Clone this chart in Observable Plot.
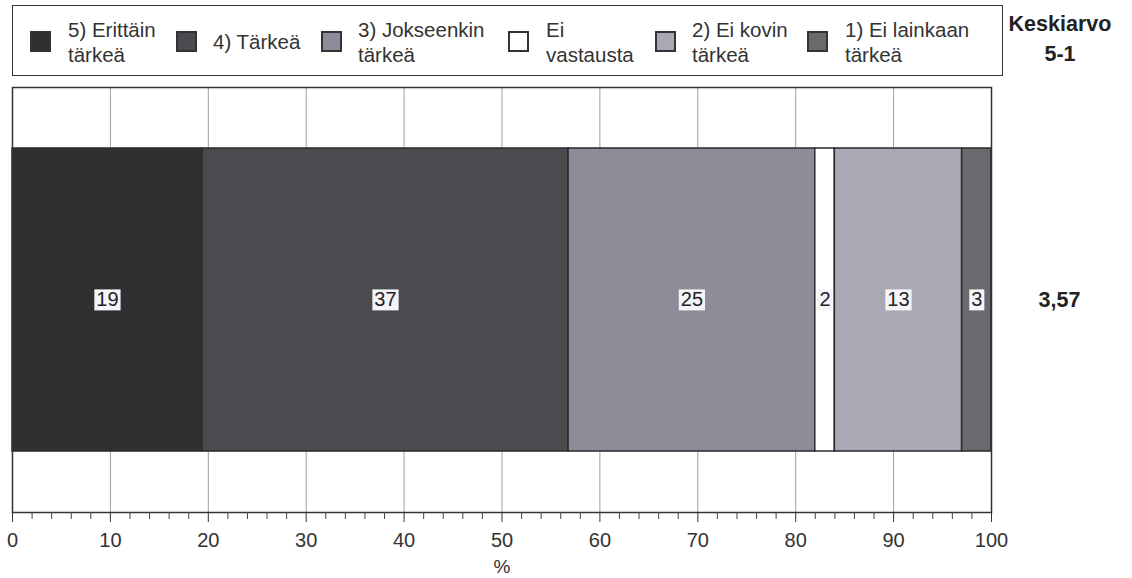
<!DOCTYPE html>
<html><head><meta charset="utf-8">
<script src="https://cdn.jsdelivr.net/npm/d3@7"></script>
<script src="https://cdn.jsdelivr.net/npm/@observablehq/plot@0.6"></script>
<style>
body{margin:0;background:#fff;font-family:"Liberation Sans",Arial,sans-serif;overflow:hidden;}
#wrap{position:relative;width:1132px;height:578px;}
#legend{position:relative;width:1132px;height:80px;}
.box{position:absolute;left:12px;top:5px;width:991px;height:71px;border:1.5px solid #333;box-sizing:border-box;}
.sw{position:absolute;top:31px;width:21px;height:21px;border:2px solid #333;box-sizing:border-box;}
.lt{position:absolute;font-size:20.5px;line-height:25px;color:#333;white-space:nowrap;}
.kv{position:absolute;font-weight:bold;font-size:21.5px;line-height:25px;color:#222;text-align:center;width:120px;left:1000px;}
#chart svg{display:block;}
</style>
</head><body>
<div id="wrap">
  <div id="legend"></div>
  <div id="chart"></div>
</div>
<script>
// ---- data ----
const categories = ["5) Erittäin tärkeä", "4) Tärkeä", "3) Jokseenkin tärkeä", "Ei vastausta", "2) Ei kovin tärkeä", "1) Ei lainkaan tärkeä"];
const legendLines = [["5) Erittäin", "tärkeä"], ["4) Tärkeä"], ["3) Jokseenkin", "tärkeä"], ["Ei", "vastausta"], ["2) Ei kovin", "tärkeä"], ["1) Ei lainkaan", "tärkeä"]];
const values = [19.4, 37.4, 25.2, 2.0, 13.0, 3.0];
const colors = ["#303033", "#4b4b4f", "#8d8d99", "#ffffff", "#a9a9b6", "#69696e"];
const meanTitle = ["Keskiarvo", "5-1"];
const meanValue = "3,57";
const majorTicks = [0, 10, 20, 30, 40, 50, 60, 70, 80, 90, 100];
const minorTicks = [2, 4, 6, 8, 12, 14, 16, 18, 22, 24, 26, 28, 32, 34, 36, 38, 42, 44, 46, 48, 52, 54, 56, 58, 62, 64, 66, 68, 72, 74, 76, 78, 82, 84, 86, 88, 92, 94, 96, 98];
const gridTicks = [10, 20, 30, 40, 50, 60, 70, 80, 90];
const axisLabel = "%";

// ---- legend (HTML) ----
const swatchLeft = [30, 176, 321, 508, 655, 807];
const textLeft = [68, 213, 358, 546, 692, 845];
const legend = document.getElementById("legend");
legend.innerHTML = '<div class="box"></div>';
categories.forEach((c, i) => {
  const sw = document.createElement("div");
  sw.className = "sw";
  sw.style.left = swatchLeft[i] + "px";
  sw.style.background = colors[i];
  legend.appendChild(sw);
  const t = document.createElement("div");
  t.className = "lt";
  t.style.left = textLeft[i] + "px";
  t.style.top = (legendLines[i].length === 1 ? 29 : 17) + "px";
  t.innerHTML = legendLines[i].join("<br>");
  legend.appendChild(t);
});
meanTitle.forEach((s, i) => {
  const d = document.createElement("div");
  d.className = "kv";
  d.style.top = (i === 0 ? 12 : 42) + "px";
  d.textContent = s;
  legend.appendChild(d);
});

// ---- chart ----
const data = categories.map((c, i) => ({row: "r", category: c, value: values[i]}));

const chart = Plot.plot({
  width: 1132,
  height: 498,
  marginTop: 7,
  marginBottom: 66,
  marginLeft: 12,
  marginRight: 141,
  x: {domain: [0, 100], axis: null},
  y: {domain: ["r"], axis: null, paddingInner: 0, paddingOuter: 0.2},
  color: {domain: categories, range: colors},
  style: {fontFamily: "'Liberation Sans', Arial, sans-serif", fontSize: "20px", color: "#333", background: "#fff"},
  marks: [
    Plot.ruleX(gridTicks, {stroke: "#9c9ca4", strokeWidth: 1}),
    Plot.barX(data, Plot.stackX({x: "value", y: "row", fill: "category", stroke: "#2a2a2a", strokeWidth: 1.5, order: null})),
    Plot.text(data, Plot.stackX({x: "value", y: "row", text: d => String(Math.round(d.value)), fill: "#222", fontSize: 20, order: null})),
    Plot.text([meanValue], {y: () => "r", frameAnchor: "right", dx: 68, text: d => d, fontWeight: "bold", fontSize: 21.5, fill: "#222", textAnchor: "middle"}),
    Plot.frame({stroke: "#333", strokeWidth: 1.5}),
    Plot.axisX(minorTicks, {tickSize: 7, tickFormat: () => "", label: null, stroke: "#444"}),
    Plot.axisX(majorTicks, {tickSize: 10, tickPadding: 10, fontSize: 20, label: null, stroke: "#333", fill: "#333"}),
    Plot.text([axisLabel], {frameAnchor: "bottom", dy: 54, text: d => d, fontSize: 19, fill: "#333", lineAnchor: "middle"})
  ]
});
document.getElementById("chart").appendChild(chart);

// white boxes behind the value labels, sized from the rendered text
const textGroups = chart.querySelectorAll('g[aria-label="text"]');
if (textGroups.length) {
  const g = textGroups[0];
  g.querySelectorAll("text").forEach(t => {
    const b = t.getBBox();
    const r = document.createElementNS("http://www.w3.org/2000/svg", "rect");
    r.setAttribute("x", b.x - 2);
    r.setAttribute("y", b.y + 1);
    r.setAttribute("width", b.width + 4);
    r.setAttribute("height", b.height - 1);
    r.setAttribute("fill", "#f4f4f9");
    if (t.getAttribute("transform")) r.setAttribute("transform", t.getAttribute("transform"));
    g.insertBefore(r, t);
  });
}
</script>
</body></html>
